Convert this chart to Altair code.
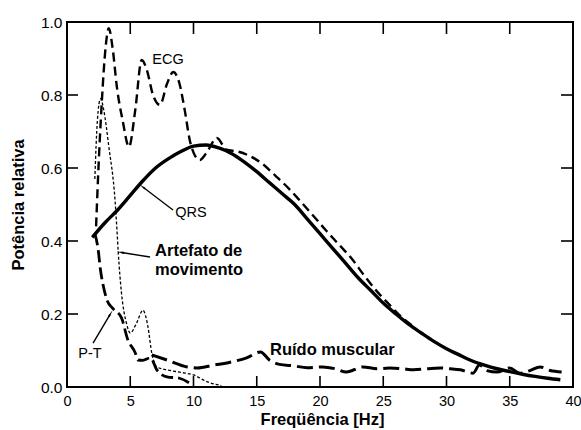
import altair as alt
import pandas as pd
import numpy as np

# ---------------- data ----------------
qrs_x = [2, 3, 4, 5, 6, 7, 8, 9, 10, 11, 12, 13, 14, 15, 16, 17, 18, 19, 20, 21, 22, 23, 24, 25,
         26, 27, 28, 29, 30, 31, 32, 33, 34, 35, 36, 37, 38, 39]
qrs_y = [0.41, 0.45, 0.485, 0.525, 0.565, 0.60, 0.625, 0.645, 0.66, 0.663, 0.655, 0.64, 0.617, 0.59,
         0.56, 0.53, 0.50, 0.46, 0.42, 0.38, 0.34, 0.30, 0.265, 0.23, 0.20, 0.172, 0.148, 0.125,
         0.105, 0.088, 0.072, 0.06, 0.05, 0.042, 0.035, 0.029, 0.024, 0.02]

ecg_x = [2.3, 2.45, 2.75, 3.05, 3.3, 3.6, 3.95, 4.4, 4.9, 5.4, 5.9, 6.3, 6.8, 7.35, 7.9, 8.4, 8.9,
         9.3, 9.7, 10.1, 10.5, 11.0, 11.85, 12.6, 13.5, 14.5, 15.5, 16.5, 17.5, 18.5, 19.5, 20.5,
         21.5, 22.5, 23.5, 24.5, 25.5, 26.5, 27.5]
ecg_y = [0.44, 0.57, 0.78, 0.93, 0.983, 0.93, 0.82, 0.73, 0.658, 0.76, 0.896, 0.87, 0.80, 0.773,
         0.83, 0.863, 0.83, 0.76, 0.677, 0.635, 0.622, 0.64, 0.682, 0.65, 0.645, 0.632, 0.61, 0.578,
         0.545, 0.507, 0.468, 0.428, 0.39, 0.352, 0.305, 0.262, 0.225, 0.19, 0.163]

art_x = [2.2, 2.4, 2.65, 2.9, 3.3, 3.8, 3.95, 4.05, 4.3, 4.7, 5.0, 5.5, 6.0, 6.4, 6.7, 7.1, 7.9,
         9.0, 10.0, 11.1, 12.2]
art_y = [0.57, 0.73, 0.79, 0.76, 0.66, 0.51, 0.43, 0.37, 0.26, 0.175, 0.148, 0.175, 0.21, 0.165,
         0.093, 0.055, 0.047, 0.04, 0.033, 0.014, 0.004]

pt_x = [2.2, 2.45, 2.65, 2.85, 3.2, 3.6, 4.3, 4.8, 5.4, 5.6, 6.0, 6.6, 7.1, 7.9, 8.9, 10.0]
pt_y = [0.42, 0.38, 0.32, 0.28, 0.235, 0.216, 0.19, 0.13, 0.093, 0.074, 0.073, 0.08, 0.047,
        0.028, 0.024, 0.003]

mus_x = [6.7, 7.9, 9.5, 10.3, 11.6, 12.9, 14.2, 15.3, 16.0, 16.8, 17.9, 19.0, 20.2, 21.2, 22.1,
         23.4, 24.5, 25.5, 26.5, 27.4, 28.5, 29.5, 30.3, 31.1, 32.1, 32.6, 33.2, 34.0, 35.0, 35.8,
         36.6, 37.4, 38.2, 39.1]
mus_y = [0.088, 0.074, 0.055, 0.052, 0.06, 0.068, 0.08, 0.096, 0.074, 0.062, 0.058, 0.053, 0.055,
         0.05, 0.041, 0.055, 0.05, 0.052, 0.05, 0.047, 0.05, 0.052, 0.05, 0.047, 0.038, 0.06, 0.045,
         0.041, 0.052, 0.038, 0.045, 0.055, 0.045, 0.041]

x_tick_values = [0, 5, 10, 15, 20, 25, 30, 35, 40]
y_tick_values = [0.0, 0.2, 0.4, 0.6, 0.8, 1.0]
x_inner_ticks = [5, 10, 15, 20, 25, 30, 35]
y_inner_ticks = [0.2, 0.4, 0.6, 0.8]

# annotations
lbl_text = ["ECG", "QRS", "P-T"]
lbl_x = [7.98, 9.8, 1.82]
lbl_y = [0.896, 0.477, 0.09]
bold_text = ["Artefato de", "movimento", "Ruído muscular"]
bold_x = [6.96, 6.96, 16.05]
bold_y = [0.359, 0.307, 0.088]
arrow_tail_x = [8.38, 6.56, 2.06]
arrow_tail_y = [0.485, 0.356, 0.12]
arrow_tip_x = [5.8, 4.05, 3.55]
arrow_tip_y = [0.553, 0.37, 0.207]

W, H = 506, 365
FONT = "Liberation Sans"

xscale = alt.Scale(domain=[0, 40], nice=False, zero=False)
yscale = alt.Scale(domain=[0, 1], nice=False)

xaxis = alt.Axis(
    title="Freqüência [Hz]", values=x_tick_values, grid=False, ticks=False, domain=False,
    labelPadding=7, labelFontSize=14.5, labelFont=FONT, labelColor="black",
    labelOverlap=False, labelFlush=False,
    titleFont=FONT, titleFontSize=16.5, titleFontWeight="bold", titleColor="black",
    titleX=W / 2 + 2, titleY=37, titleBaseline="alphabetic", titleAlign="center")
yaxis = alt.Axis(
    title="Potência relativa", values=y_tick_values, format=".1f", grid=False, ticks=False,
    domain=False, labelPadding=5, labelFontSize=15.5, labelFont=FONT, labelColor="black",
    labelOverlap=False, labelFlush=False,
    titleFont=FONT, titleFontSize=16.5, titleFontWeight="bold", titleColor="black",
    titleX=-49, titleY=H / 2, titleAngle=270, titleBaseline="middle", titleAlign="center")


def X(field="x"):
    return alt.X(f"{field}:Q", scale=xscale, axis=xaxis)


def Y(field="y"):
    return alt.Y(f"{field}:Q", scale=yscale, axis=yaxis)


def series(xs, ys, width, dash=None):
    kw = dict(color="black", strokeWidth=width, interpolate="monotone")
    if dash:
        kw["strokeDash"] = dash
    return alt.Chart(pd.DataFrame({"x": xs, "y": ys})).mark_line(**kw).encode(x=X(), y=Y())


qrs = series(qrs_x, qrs_y, 3.4)
ecg = series(ecg_x, ecg_y, 2.4, [9, 5])
art = series(art_x, art_y, 1.3, [3, 2])
pt = series(pt_x, pt_y, 2.8, [12, 5])
mus = series(mus_x, mus_y, 3.0, [16, 6])

# inward ticks
xt = pd.DataFrame({"x": x_inner_ticks})
yt = pd.DataFrame({"y": y_inner_ticks})
tick_kw = dict(color="black", strokeWidth=1.6)
bot_ticks = alt.Chart(xt).mark_rule(**tick_kw).encode(
    x=X(), y=alt.value(H), y2=alt.value(H - 11))
top_ticks = alt.Chart(xt).mark_rule(**tick_kw).encode(
    x=X(), y=alt.value(0), y2=alt.value(12))
left_ticks = alt.Chart(yt).mark_rule(**tick_kw).encode(
    y=Y(), x=alt.value(0), x2=alt.value(11))
right_ticks = alt.Chart(yt).mark_rule(**tick_kw).encode(
    y=Y(), x=alt.value(W), x2=alt.value(W - 12))

# text annotations
labels = alt.Chart(pd.DataFrame({"t": lbl_text, "x": lbl_x, "y": lbl_y})).mark_text(
    font=FONT, fontSize=14.5, color="black", align="center", baseline="middle"
).encode(x=X(), y=Y(), text="t:N")
blabels = alt.Chart(pd.DataFrame({"t": bold_text, "x": bold_x, "y": bold_y})).mark_text(
    font=FONT, fontSize=16.5, fontWeight="bold", color="black", align="left",
    baseline="alphabetic"
).encode(x=X(), y=Y(), text="t:N")

# arrows
ax0 = np.array(arrow_tail_x); ay0 = np.array(arrow_tail_y)
ax1 = np.array(arrow_tip_x); ay1 = np.array(arrow_tip_y)
dxp = (ax1 - ax0) * W / 40.0
dyp = -(ay1 - ay0) * H / 1.0
n = np.hypot(dxp, dyp)
ang = (np.degrees(np.arctan2(dxp, -dyp)) + 360) % 360
back = 3.5
hx = ax1 - back * dxp / n * 40.0 / W
hy = ay1 + back * dyp / n * 1.0 / H
shafts = alt.Chart(pd.DataFrame({"x": ax0, "y": ay0, "x2": hx, "y2": hy})).mark_rule(
    color="black", strokeWidth=1.4
).encode(x=X(), y=Y(), x2="x2:Q", y2="y2:Q")
heads = alt.Chart(pd.DataFrame({"x": hx, "y": hy, "a": ang})).mark_point(
    shape="wedge", filled=True, color="black", size=70, opacity=1
).encode(x=X(), y=Y(), angle=alt.Angle("a:Q", scale=None))

chart = alt.layer(
    qrs, ecg, art, pt, mus, bot_ticks, top_ticks, left_ticks, right_ticks,
    labels, blabels, shafts, heads
).properties(
    width=W, height=H,
    autosize=alt.AutoSizeParams(type="none"),
    padding={"left": 67, "top": 22, "right": 8, "bottom": 43},
    background="white",
).configure_view(stroke="black", strokeWidth=2)

chart.save("out.html", embed_options={"renderer": "svg", "actions": False})
